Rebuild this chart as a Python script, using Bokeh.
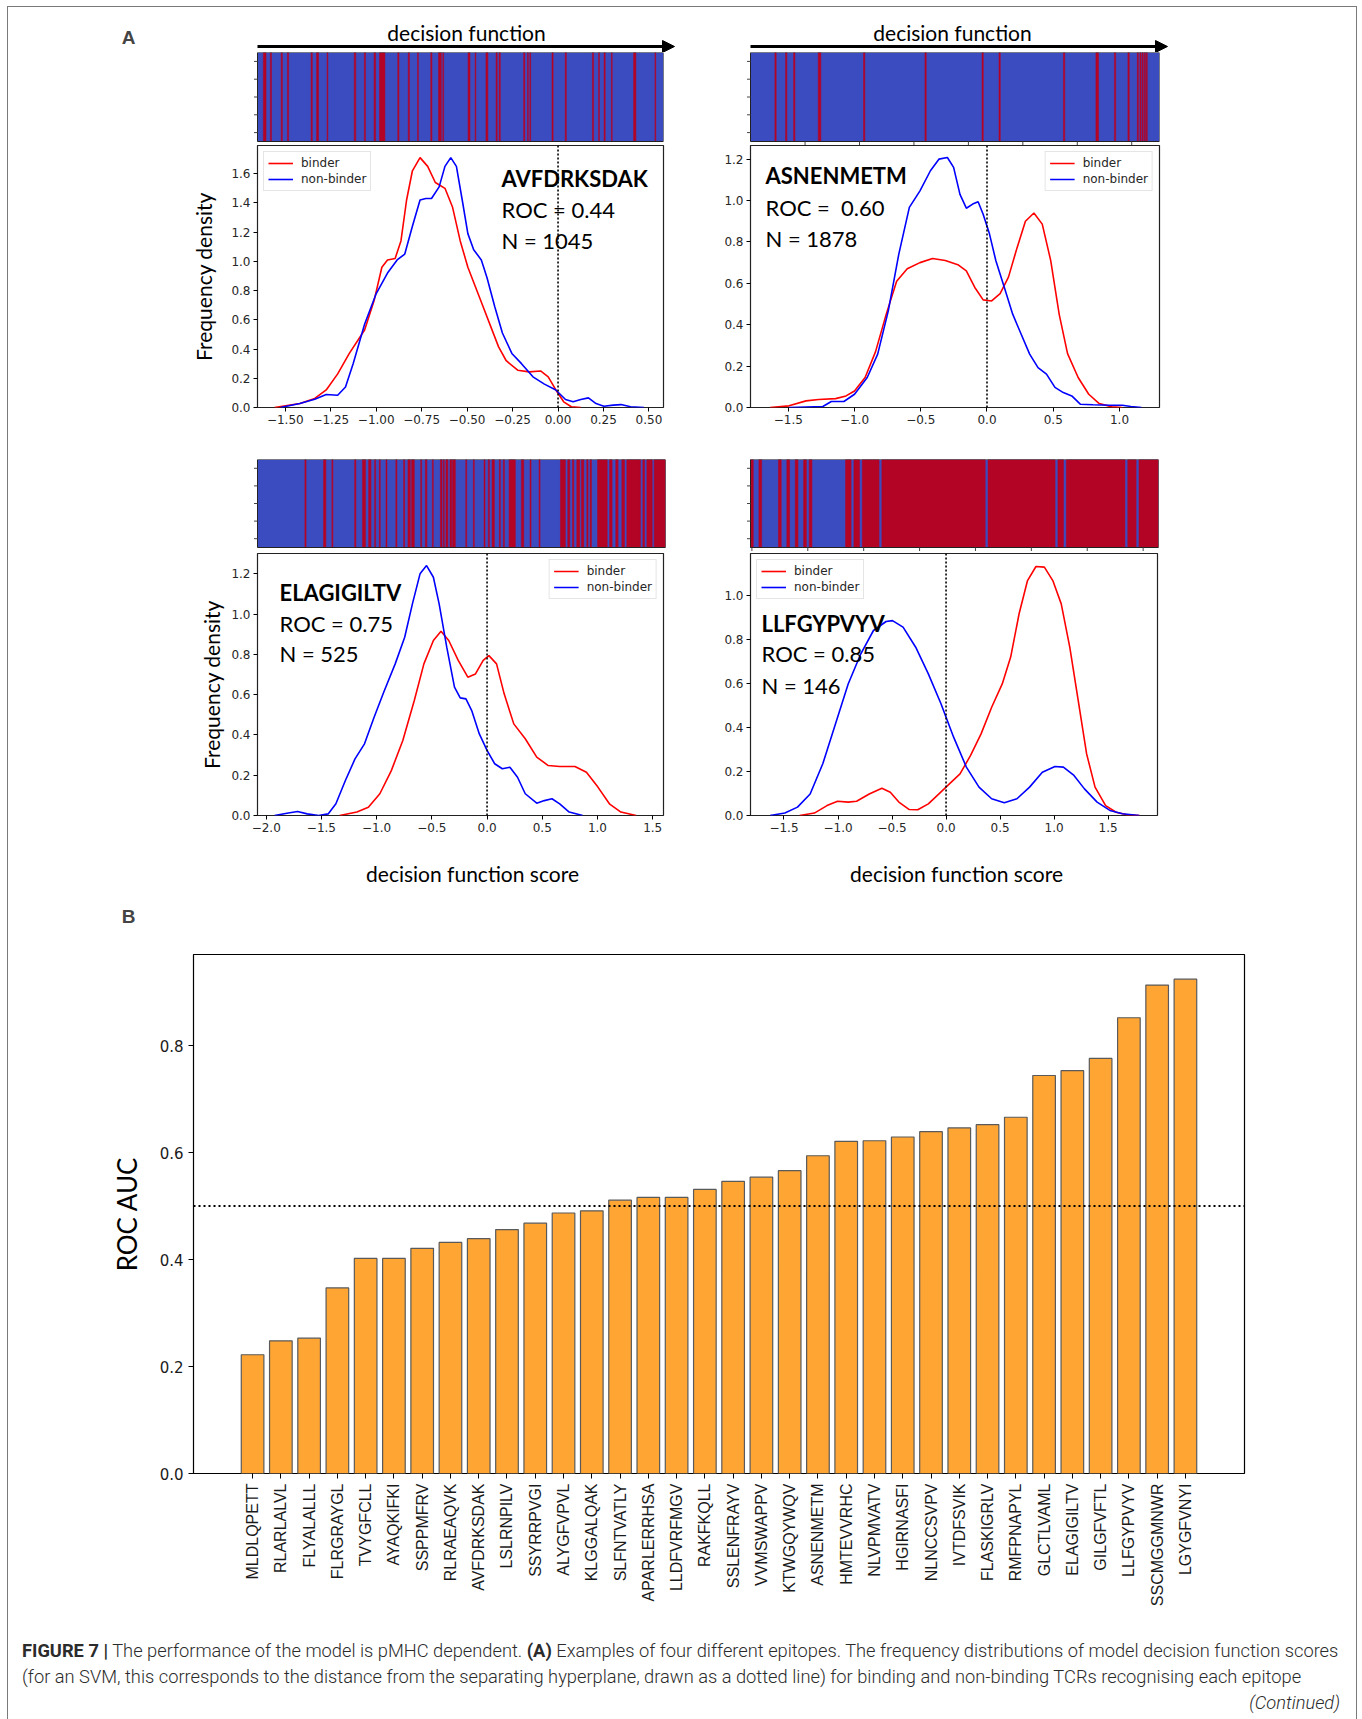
import math
from bokeh.plotting import figure
from bokeh.models import (Range1d, Span, Legend, LegendItem, Label, Arrow, NormalHead,
                          FixedTicker, CustomJSTickFormatter, Div, Spacer)
from bokeh.layouts import column, row
from bokeh.embed import file_html
from bokeh.resources import INLINE

# ---------------------------------------------------------------- data
# Panel A: kernel density curves (decision function score -> density)
tl_bind_x = [-1.559, -1.42, -1.338, -1.275, -1.212, -1.148, -1.064, -1.012, -0.969, -0.938, -0.896, -0.864,
             -0.833, -0.801, -0.759, -0.717, -0.675, -0.622, -0.580, -0.538, -0.496, -0.454, -0.412, -0.369,
             -0.327, -0.285, -0.222, -0.159, -0.096, -0.054, -0.012, 0.031, 0.073, 0.125]
tl_bind_y = [0.0, 0.027, 0.062, 0.12, 0.23, 0.37, 0.53, 0.73, 0.96, 1.01, 1.02, 1.14,
             1.42, 1.62, 1.71, 1.65, 1.54, 1.50, 1.37, 1.14, 0.96, 0.825, 0.69, 0.55,
             0.415, 0.32, 0.255, 0.244, 0.25, 0.21, 0.12, 0.039, 0.005, 0.0]
tl_non_x = [-1.527, -1.42, -1.338, -1.275, -1.212, -1.169, -1.127, -1.064, -1.0, -0.938, -0.885, -0.843,
            -0.801, -0.759, -0.727, -0.696, -0.654, -0.622, -0.59, -0.559, -0.527, -0.496, -0.464, -0.422,
            -0.391, -0.348, -0.306, -0.254, -0.201, -0.138, -0.075, -0.012, 0.041, 0.083, 0.125, 0.167,
            0.209, 0.252, 0.304, 0.346, 0.399, 0.473]
tl_non_y = [0.0, 0.027, 0.057, 0.089, 0.084, 0.14, 0.30, 0.57, 0.78, 0.92, 1.01, 1.05,
            1.24, 1.42, 1.43, 1.43, 1.51, 1.65, 1.71, 1.65, 1.42, 1.19, 1.08, 1.01,
            0.89, 0.69, 0.51, 0.37, 0.30, 0.21, 0.16, 0.12, 0.055, 0.039, 0.055, 0.066,
            0.027, 0.009, 0.016, 0.02, 0.005, 0.0]

tr_bind_x = [-1.637, -1.494, -1.366, -1.271, -1.143, -1.064, -1.0, -0.920, -0.841, -0.761, -0.682, -0.602,
             -0.506, -0.411, -0.315, -0.22, -0.156, -0.092, -0.029, 0.035, 0.099, 0.162, 0.226, 0.290,
             0.354, 0.417, 0.481, 0.545, 0.608, 0.688, 0.768, 0.847, 0.943, 1.022]
tr_bind_y = [0.0, 0.008, 0.032, 0.039, 0.043, 0.056, 0.08, 0.145, 0.27, 0.45, 0.61, 0.67,
             0.70, 0.72, 0.71, 0.69, 0.66, 0.58, 0.52, 0.515, 0.55, 0.63, 0.77, 0.90,
             0.94, 0.886, 0.71, 0.45, 0.26, 0.145, 0.064, 0.019, 0.003, 0.0]
tr_non_x = [-1.494, -1.239, -1.175, -1.08, -1.0, -0.904, -0.825, -0.745, -0.666, -0.586, -0.506, -0.427,
            -0.363, -0.299, -0.252, -0.204, -0.156, -0.108, -0.067, -0.029, 0.019, 0.067, 0.131, 0.194,
            0.258, 0.322, 0.385, 0.449, 0.513, 0.576, 0.640, 0.704, 0.799, 0.927, 1.022, 1.086, 1.166]
tr_non_y = [0.0, 0.005, 0.029, 0.029, 0.064, 0.145, 0.258, 0.467, 0.74, 0.967, 1.047, 1.144,
            1.2, 1.208, 1.16, 1.03, 0.963, 0.983, 0.994, 0.934, 0.838, 0.709, 0.58, 0.451,
            0.354, 0.258, 0.193, 0.161, 0.097, 0.072, 0.056, 0.016, 0.013, 0.011, 0.011, 0.005, 0.0]

bl_bind_x = [-1.335, -1.179, -1.075, -0.971, -0.867, -0.763, -0.659, -0.572, -0.486, -0.417, -0.347, -0.261,
             -0.174, -0.105, -0.035, 0.017, 0.086, 0.155, 0.242, 0.346, 0.45, 0.554, 0.658, 0.796,
             0.9, 1.004, 1.108, 1.212, 1.35]
bl_bind_y = [0.0, 0.017, 0.041, 0.108, 0.223, 0.372, 0.571, 0.753, 0.869, 0.915, 0.869, 0.77,
             0.687, 0.703, 0.77, 0.794, 0.753, 0.604, 0.455, 0.381, 0.29, 0.248, 0.243, 0.243,
             0.215, 0.141, 0.058, 0.017, 0.0]
bl_non_x = [-1.924, -1.8, -1.716, -1.629, -1.525, -1.439, -1.369, -1.283, -1.196, -1.11, -1.023, -0.936,
            -0.832, -0.746, -0.676, -0.607, -0.548, -0.486, -0.434, -0.365, -0.295, -0.243, -0.191, -0.139,
            -0.07, 0.0, 0.069, 0.138, 0.207, 0.276, 0.346, 0.45, 0.519, 0.588, 0.658, 0.744, 0.866]
bl_non_y = [0.0, 0.012, 0.02, 0.008, 0.0, 0.008, 0.058, 0.174, 0.281, 0.356, 0.488, 0.612,
            0.753, 0.885, 1.051, 1.2, 1.241, 1.183, 1.051, 0.836, 0.637, 0.584, 0.579, 0.521,
            0.405, 0.323, 0.257, 0.232, 0.24, 0.19, 0.108, 0.061, 0.074, 0.083, 0.058, 0.017, 0.0]

br_bind_x = [-1.355, -1.219, -1.102, -1.004, -0.906, -0.828, -0.711, -0.594, -0.516, -0.437, -0.34, -0.262,
             -0.164, -0.066, 0.031, 0.129, 0.227, 0.324, 0.422, 0.52, 0.598, 0.676, 0.754, 0.832,
             0.91, 0.988, 1.066, 1.145, 1.223, 1.301, 1.379, 1.477, 1.574, 1.672, 1.789]
br_bind_y = [0.0, 0.011, 0.045, 0.065, 0.061, 0.065, 0.098, 0.124, 0.106, 0.061, 0.027, 0.026,
             0.053, 0.098, 0.144, 0.189, 0.273, 0.371, 0.492, 0.598, 0.72, 0.917, 1.068, 1.132,
             1.129, 1.068, 0.962, 0.765, 0.523, 0.28, 0.129, 0.045, 0.015, 0.003, 0.0]
br_non_x = [-1.629, -1.492, -1.375, -1.258, -1.141, -1.023, -0.906, -0.789, -0.672, -0.555, -0.496, -0.398,
            -0.281, -0.164, -0.047, 0.07, 0.188, 0.305, 0.422, 0.539, 0.656, 0.773, 0.891, 1.008,
            1.086, 1.184, 1.281, 1.398, 1.516, 1.633, 1.789]
br_non_y = [0.0, 0.011, 0.038, 0.098, 0.235, 0.417, 0.598, 0.735, 0.841, 0.882, 0.886, 0.856,
            0.765, 0.644, 0.508, 0.356, 0.22, 0.129, 0.076, 0.058, 0.076, 0.129, 0.197, 0.223,
            0.22, 0.182, 0.121, 0.061, 0.023, 0.008, 0.0]

# Panel A: barcode strips (samples sorted by score; binder runs given as [start, end) in sample rank)
tl_n = 1045
tl_red_start = [15, 33, 61, 77, 138, 152, 179, 249, 275, 300, 314, 361, 388, 412, 446, 466, 477, 542, 560, 588,
                614, 622, 685, 695, 701, 758, 792, 862, 878, 892, 911, 968, 1023]
tl_red_end = [22, 36, 64, 80, 141, 157, 181, 253, 278, 304, 328, 364, 391, 414, 449, 473, 479, 547, 562, 593,
              617, 625, 688, 697, 703, 761, 795, 865, 880, 895, 913, 974, 1025]
tr_n = 1878
tr_red_start = [112, 161, 198, 311, 519, 801, 1063, 1141, 1437, 1586, 1671, 1733, 1776, 1788, 1798, 1808, 1817]
tr_red_end = [118, 167, 204, 323, 525, 807, 1069, 1147, 1443, 1598, 1677, 1739, 1781, 1793, 1803, 1813, 1822]
bl_n = 525
bl_red_start = [61, 85, 95.7, 125, 135, 143, 150.7, 156.7, 165.3, 178, 188, 193.6, 198.3, 210, 216, 225, 235.3,
                239, 242.5, 247.7, 251, 268, 277.8, 291.5, 297, 301.8, 311.2, 316.4, 323.7, 339.6, 350.7,
                362.3, 389.8, 399.2, 405.3, 410.8, 416.8, 423.7, 428, 437.5, 453, 461, 468.8, 475.2, 495.8,
                501, 510.4]
bl_red_end = [62.5, 88, 97, 126.6, 139, 146, 152, 158, 166.6, 179.4, 189.3, 196.6, 201.8, 211.2, 218, 226.2,
              237.4, 240.4, 245, 250, 254.6, 269.2, 279, 292.8, 298.4, 304.8, 312.5, 317.7, 331.8, 342.6, 352,
              363.6, 396.2, 401.8, 407, 414.7, 419.9, 425.4, 429.7, 450, 456.3, 464, 472.2, 492.8, 498,
              507.9, 525]
br_n = 146
br_red_start = [0, 3, 10, 13, 16, 19, 21, 34, 37, 40, 47, 85, 110, 113, 135, 139]
br_red_end = [1, 4, 11, 14, 17, 20, 22, 36, 39, 46, 84, 109, 112, 134, 138, 146]
# rank ticks under the strips (only drawn in the reference for the right-hand panels)
tr_rank_ticks = [250.5, 500.5, 750.5, 1000.5, 1250.5, 1500.5, 1750.5]
br_rank_ticks = [0.5, 20.5, 40.5, 60.5, 80.5, 100.5, 120.5, 140.5]
strip_yticks = [0.1, 0.3, 0.5, 0.7, 0.9]

# Panel A: annotation texts and tick values
tl_text = ["AVFDRKSDAK", "ROC = 0.44", "N = 1045"]
tr_text = ["ASNENMETM", "ROC =\u00a0 0.60", "N = 1878"]
bl_text = ["ELAGIGILTV", "ROC = 0.75", "N = 525"]
br_text = ["LLFGYPVYV", "ROC = 0.85", "N = 146"]
tl_xticks = [-1.5, -1.25, -1.0, -0.75, -0.5, -0.25, 0.0, 0.25, 0.5]
tr_xticks = [-1.5, -1.0, -0.5, 0.0, 0.5, 1.0]
bl_xticks = [-2.0, -1.5, -1.0, -0.5, 0.0, 0.5, 1.0, 1.5]
br_xticks = [-1.5, -1.0, -0.5, 0.0, 0.5, 1.0, 1.5]
tl_yticks = [0.0, 0.2, 0.4, 0.6, 0.8, 1.0, 1.2, 1.4, 1.6]
tr_yticks = [0.0, 0.2, 0.4, 0.6, 0.8, 1.0, 1.2]
bl_yticks = [0.0, 0.2, 0.4, 0.6, 0.8, 1.0, 1.2]
br_yticks = [0.0, 0.2, 0.4, 0.6, 0.8, 1.0]

# Panel B: ROC AUC per epitope
epitopes = ["MLDLQPETT", "RLARLALVL", "FLYALALLL", "FLRGRAYGL", "TVYGFCLL", "AYAQKIFKI", "SSPPMFRV",
            "RLRAEAQVK", "AVFDRKSDAK", "LSLRNPILV", "SSYRRPVGI", "ALYGFVPVL", "KLGGALQAK", "SLFNTVATLY",
            "APARLERRHSA", "LLDFVRFMGV", "RAKFKQLL", "SSLENFRAYV", "VVMSWAPPV", "KTWGQYWQV", "ASNENMETM",
            "HMTEVVRHC", "NLVPMVATV", "HGIRNASFI", "NLNCCSVPV", "IVTDFSVIK", "FLASKIGRLV", "RMFPNAPYL",
            "GLCTLVAML", "ELAGIGILTV", "GILGFVFTL", "LLFGYPVYV", "SSCMGGMNWR", "LGYGFVNYI"]
roc_auc = [0.222, 0.248, 0.253, 0.347, 0.402, 0.402, 0.421, 0.432, 0.439, 0.456, 0.468, 0.487, 0.491, 0.511,
           0.516, 0.516, 0.531, 0.546, 0.554, 0.566, 0.594, 0.621, 0.622, 0.629, 0.639, 0.646, 0.652, 0.666,
           0.744, 0.753, 0.776, 0.852, 0.913, 0.924]
bar_yticks = [0.0, 0.2, 0.4, 0.6, 0.8]
chance_level = 0.5

# ---------------------------------------------------------------- styling helpers
STRIP_BLUE = "#3b4cc0"
STRIP_RED = "#b40426"
TICK_FONT = "DejaVu Sans"
TICK_PX = 3.5


def num_fmt(dec):
    return CustomJSTickFormatter(args=dict(d=dec), code="""
const s = Math.abs(tick).toFixed(d);
return (tick < -1e-9 ? "\u2212" : "") + s;""")


def base_fig(width, height, xr, yr, mbl, mbr, mbt, mbb, xloc="below", yloc="left"):
    p = figure(width=width, height=height, x_range=xr, y_range=yr, output_backend="svg",
               toolbar_location=None, x_axis_location=xloc, y_axis_location=yloc,
               min_border_left=mbl, min_border_right=mbr, min_border_top=mbt, min_border_bottom=mbb)
    p.grid.visible = False
    p.background_fill_color = "white"
    p.border_fill_color = "white"
    return p


def strip_fig(n, rs, re_, width, height, mbl, mbr, mbt, mbb, strip_w, strip_h, rank_ticks=None):
    # frame = strip plus 4 px on the left and below, room for the small tick marks
    ux = n / strip_w
    uy = 1.0 / strip_h
    p = base_fig(width, height, Range1d(-4 * ux, n), Range1d(-4 * uy, 1), mbl, mbr, mbt, mbb,
                 xloc=None, yloc=None)
    p.outline_line_color = None
    p.quad(left=[0], right=[n], bottom=[0], top=[1], fill_color=STRIP_BLUE, line_color=None)
    p.quad(left=rs, right=re_, bottom=0, top=1, fill_color=STRIP_RED,
           line_color=STRIP_RED, line_width=0.5)
    p.quad(left=[0], right=[n], bottom=[0], top=[1], fill_color=None, line_color="#222222", line_width=1)
    p.segment(x0=[-TICK_PX * ux] * len(strip_yticks), y0=strip_yticks,
              x1=[0] * len(strip_yticks), y1=strip_yticks, line_color="#444444", line_width=1)
    if rank_ticks:
        p.segment(x0=rank_ticks, y0=[0] * len(rank_ticks), x1=rank_ticks,
                  y1=[-TICK_PX * uy] * len(rank_ticks), line_color="#444444", line_width=1)
    return p


def dens_fig(xa, xb, ya, frame, width, height, mbl, mbr, mbt, mbb,
             bx, by, nx, ny, xticks, xdec, yticks, legend_loc, texts, text_pos,
             ylabel=None, ylabel_standoff=10):
    p = base_fig(width, height, Range1d(xa, xb), Range1d(0, ya), mbl, mbr, mbt, mbb)
    rr = p.line(bx, by, line_color="#ff0000", line_width=1.6)
    rb = p.line(nx, ny, line_color="#0000ff", line_width=1.6)
    p.add_layout(Span(location=0, dimension="height", line_color="black",
                      line_dash="2 2", line_width=1.6))
    p.outline_line_color = "#222222"
    p.outline_line_width = 1.2
    for ax, ticks, dec in ((p.xaxis[0], xticks, xdec), (p.yaxis[0], yticks, 1)):
        ax.ticker = FixedTicker(ticks=ticks)
        ax.formatter = num_fmt(dec)
        ax.axis_line_color = None
        ax.major_tick_out = 4
        ax.major_tick_in = 0
        ax.minor_tick_out = 0
        ax.minor_tick_in = 0
        ax.major_label_text_font = TICK_FONT
        ax.major_label_text_font_size = "12px"
        ax.major_label_text_color = "#262626"
        ax.major_label_standoff = 3
    if ylabel:
        p.yaxis.axis_label = ylabel
        p.yaxis.axis_label_text_font = "Lato"
        p.yaxis.axis_label_text_font_size = "21px"
        p.yaxis.axis_label_text_font_style = "normal"
        p.yaxis.axis_label_text_color = "black"
        p.yaxis.axis_label_standoff = ylabel_standoff
    leg = Legend(items=[LegendItem(label="binder", renderers=[rr]),
                        LegendItem(label="non-binder", renderers=[rb])],
                 location=legend_loc, margin=6, padding=4, spacing=2,
                 label_text_font=TICK_FONT, label_text_font_size="12px", label_text_color="#262626",
                 label_standoff=8, glyph_width=25, glyph_height=14, label_height=14,
                 border_line_color="#cccccc", border_line_width=1, background_fill_alpha=0.8)
    p.add_layout(leg)
    # page-pixel position of the annotation block -> data coordinates
    fl, fr, ft, fb = frame
    tx, tys = text_pos
    for i, (t, ty) in enumerate(zip(texts, tys)):
        dx = xa + (tx - fl) * (xb - xa) / (fr - fl)
        dy = ya * (fb - ty) / (fb - ft)
        p.add_layout(Label(x=dx, y=dy, text=t, text_font="Lato", text_font_size="22px",
                           text_font_style="bold" if i == 0 else "normal", text_color="black",
                           text_align="left", text_baseline="middle"))
    return p


def page_band(y_top, y_bottom):
    """A frameless figure spanning the content width, in page pixel units."""
    f = base_fig(CW, y_bottom - y_top, Range1d(8, 1356), Range1d(y_bottom, y_top), 0, 0, 0, 0,
                 xloc=None, yloc=None)
    f.outline_line_color = None
    return f


CW = 1348  # content width (page x 8..1356)

# ---------------------------------------------------------------- header (A, arrows)
header = page_band(7, 52)
header.add_layout(Label(x=128, y=37, text="A", text_font="Liberation Sans", text_font_style="bold",
                        text_font_size="19px", text_align="center", text_baseline="middle"))
for cx, x0, x1 in ((466, 257, 674), (952, 750, 1167)):
    header.add_layout(Label(x=cx, y=32, text="decision function", text_font="Lato", text_font_size="21px",
                            text_align="center", text_baseline="middle", text_color="black"))
    header.add_layout(Arrow(x_start=x0, y_start=46, x_end=x1, y_end=46, line_width=3, line_color="black",
                            end=NormalHead(size=12, fill_color="black", line_color="black")))

# ---------------------------------------------------------------- strips
tl_s = strip_fig(tl_n, tl_red_start, tl_red_end, 695, 93, 245, 40, 0, 0, 406, 89)
tr_s = strip_fig(tr_n, tr_red_start, tr_red_end, 653, 93, 43, 197, 0, 0, 409, 89, tr_rank_ticks)
bl_s = strip_fig(bl_n, bl_red_start, bl_red_end, 695, 113, 245, 38, 19, 2, 408, 88)
br_s = strip_fig(br_n, br_red_start, br_red_end, 653, 113, 43, 198, 19, 2, 408, 88, br_rank_ticks)

# ---------------------------------------------------------------- densities
tl_d = dens_fig(-1.653, 0.580, 1.793, (257, 663, 145, 407), 695, 295, 249, 40, 0, 33,
                tl_bind_x, tl_bind_y, tl_non_x, tl_non_y, tl_xticks, 2, tl_yticks, "top_left",
                tl_text, (501, [178, 209, 240]), ylabel="Frequency density", ylabel_standoff=12)
tr_d = dens_fig(-1.785, 1.302, 1.266, (750, 1159, 145, 407), 653, 295, 47, 197, 0, 33,
                tr_bind_x, tr_bind_y, tr_non_x, tr_non_y, tr_xticks, 1, tr_yticks, "top_right",
                tr_text, (765, [175, 207, 238]))
bl_d = dens_fig(-2.079, 1.598, 1.301, (257, 663, 553, 815), 695, 295, 249, 40, 0, 33,
                bl_bind_x, bl_bind_y, bl_non_x, bl_non_y, bl_xticks, 1, bl_yticks, "top_right",
                bl_text, (279, [592, 623, 653]), ylabel="Frequency density", ylabel_standoff=4)
br_d = dens_fig(-1.810, 1.957, 1.191, (750, 1157, 553, 815), 653, 295, 47, 199, 0, 33,
                br_bind_x, br_bind_y, br_non_x, br_non_y, br_xticks, 1, br_yticks, "top_left",
                br_text, (761, [623, 653, 685]))

# ---------------------------------------------------------------- x labels of the lower panels
xlab = page_band(848, 905)
for cx in (472, 956):
    xlab.add_layout(Label(x=cx, y=873, text="decision function score", text_font="Lato",
                          text_font_size="21px", text_align="center", text_baseline="middle",
                          text_color="black"))

# ---------------------------------------------------------------- B header
b_head = page_band(905, 945)
b_head.add_layout(Label(x=128, y=916, text="B", text_font="Liberation Sans", text_font_style="bold",
                        text_font_size="19px", text_align="center", text_baseline="middle"))

# ---------------------------------------------------------------- bar chart
idx = list(range(len(epitopes)))
pad = 0.05 * (len(epitopes) - 1 + 0.8)
bar = base_fig(CW, 687, Range1d(-0.4 - pad, len(epitopes) - 1 + 0.4 + pad),
               Range1d(0, max(roc_auc) * 1.05), 185, 112, 9, 159)
bar.vbar(x=idx, top=roc_auc, width=0.8, fill_color="#ffa533", line_color="#5a5a5a", line_width=1.2)
bar.add_layout(Span(location=chance_level, dimension="width", line_color="black",
                    line_dash="2 3", line_width=2))
bar.outline_line_color = "black"
bar.outline_line_width = 1.2
xa_ = bar.xaxis[0]
xa_.ticker = FixedTicker(ticks=idx)
xa_.formatter = CustomJSTickFormatter(args=dict(labels=epitopes), code="""
const i = Math.round(tick);
return (i >= 0 && i < labels.length) ? labels[i] : "";""")
xa_.major_label_orientation = math.pi / 2
ya_ = bar.yaxis[0]
ya_.ticker = FixedTicker(ticks=bar_yticks)
ya_.formatter = num_fmt(1)
ya_.axis_label = "ROC AUC"
ya_.axis_label_text_font = "Lato"
ya_.axis_label_text_font_size = "26px"
ya_.axis_label_text_font_style = "normal"
ya_.axis_label_text_color = "black"
ya_.axis_label_standoff = 14
for ax in (xa_, ya_):
    ax.axis_line_color = None
    ax.major_tick_out = 5
    ax.major_tick_in = 0
    ax.minor_tick_out = 0
    ax.minor_tick_in = 0
    ax.major_label_text_color = "#1a1a1a"
    ax.major_label_standoff = 5
xa_.major_label_text_font = "Liberation Sans"
xa_.major_label_text_font_size = "16px"
ya_.major_label_text_font = TICK_FONT
ya_.major_label_text_font_size = "15px"

# ---------------------------------------------------------------- caption
caption_html = (
    '<div style="font-family:Roboto,sans-serif;font-weight:300;font-size:18.3px;line-height:26px;'
    'color:#2b2b2b;padding:6px 0 0 14px;white-space:nowrap;">'
    '<span style="font-weight:700">FIGURE 7 |</span> The performance of the model is pMHC dependent. '
    '<span style="font-weight:700">(A)</span> Examples of four different epitopes. The frequency '
    'distributions of model decision function scores<br>'
    '(for an SVM, this corresponds to the distance from the separating hyperplane, drawn as a dotted '
    'line) for binding and non-binding TCRs recognising each epitope<br>'
    '<div style="width:1318px;text-align:right;font-style:italic;">(Continued)</div></div>')
caption = Div(text=caption_html, width=CW, height=87, margin=(0, 0, 0, 0))

# ---------------------------------------------------------------- layout + outer frame
content = column(row(header, spacing=0),
                 row(tl_s, tr_s, spacing=0), row(tl_d, tr_d, spacing=0),
                 row(bl_s, br_s, spacing=0), row(bl_d, br_d, spacing=0),
                 row(xlab, spacing=0), row(b_head, spacing=0), row(bar, spacing=0), caption,
                 spacing=0)
line_css = {"background-color": "#7a7a7a"}
top_line = Div(text="", width=1350, height=1, margin=(0, 0, 0, 0), styles=line_css)
left_line = Div(text="", width=1, height=1712, margin=(0, 0, 0, 0), styles=line_css)
right_line = Div(text="", width=1, height=1712, margin=(0, 0, 0, 0), styles=line_css)
root = column(Spacer(width=1362, height=6),
              row(Spacer(width=7, height=1), top_line, spacing=0),
              row(Spacer(width=7, height=1), left_line, content, right_line, spacing=0),
              spacing=0)

open("out.html", "w").write(file_html(root, INLINE))
